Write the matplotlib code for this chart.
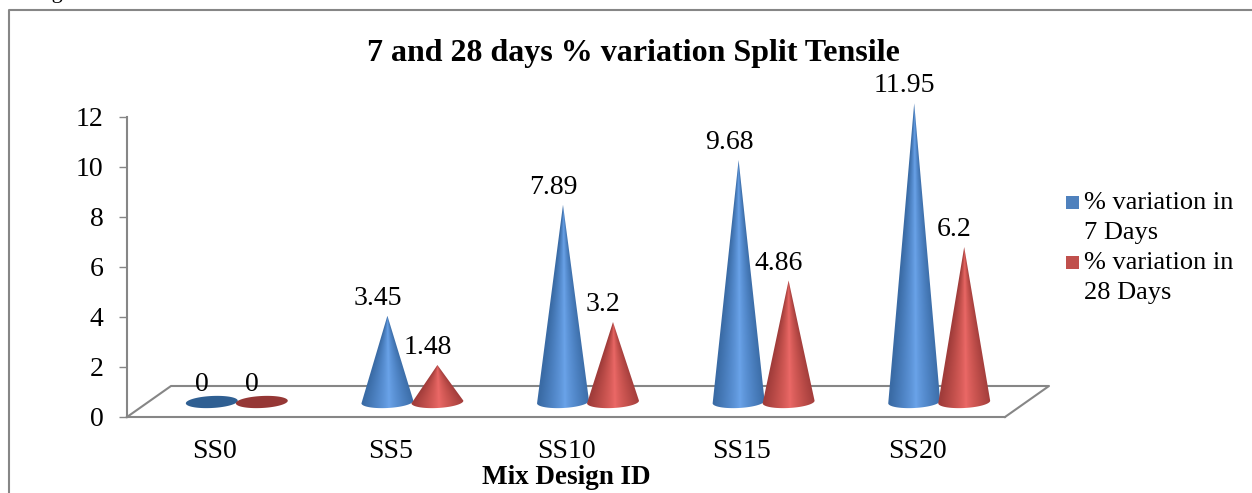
import numpy as np
import matplotlib
matplotlib.use("Agg")
import matplotlib.pyplot as plt
from matplotlib.colors import LinearSegmentedColormap
from matplotlib.patches import Polygon, Rectangle

plt.rcParams['font.family'] = ['Liberation Serif', 'DejaVu Serif']

categories = ["SS0", "SS5", "SS10", "SS15", "SS20"]
days_7 = [0, 3.45, 7.89, 9.68, 11.95]
days_28 = [0, 1.48, 3.2, 4.86, 6.2]
y_ticks = [0, 2, 4, 6, 8, 10, 12]
legend_labels = ["% variation in\n7 Days", "% variation in\n28 Days"]

W, H = 1252, 493
GRAY = "#868686"

fig = plt.figure(figsize=(W / 100, H / 100), dpi=100)
# axes box in pixels: x 127-1005, y 417 up to 67 (extra room above 12 for the tall cone)
ax = fig.add_axes([127 / W, (H - 417) / H, 878 / W, 350 / H])
ax.set_xlim(-0.5, 4.5)
ax.set_ylim(0, 14)
px_x = 878 / 5
px_y = 25.0

blue_cmap = LinearSegmentedColormap.from_list("b", ["#6ba4ea", "#5288ca", "#3a6ba5"])
red_cmap = LinearSegmentedColormap.from_list("r", ["#ec6967", "#c8534f", "#a03c3a"])


def base_arc(cx, base_y, half_w, half_h, tilt, t):
    # tilted ellipse in pixel offsets, then back to data units
    dx = half_w * np.cos(t) * np.cos(tilt) - half_h * np.sin(t) * np.sin(tilt)
    dy = half_w * np.cos(t) * np.sin(tilt) + half_h * np.sin(t) * np.cos(tilt)
    return cx + dx / px_x, base_y + dy / px_y


def draw_cone(cx, value, cmap, flat_color):
    base_y = 0.6
    half_w, half_h = 26, 6
    tilt = np.radians(3)
    if value == 0:
        xs, ys = base_arc(cx, base_y, half_w, half_h, tilt, np.linspace(0, 2 * np.pi, 80))
        ax.add_patch(Polygon(np.column_stack([xs, ys]), fc=flat_color, ec="none", zorder=3))
        return
    tip = base_y + value
    xs, ys = base_arc(cx, base_y, half_w, half_h, tilt, np.linspace(np.pi, 2 * np.pi, 40))
    outline = np.vstack([[[cx, tip]], np.column_stack([xs, ys])])
    clip = Polygon(outline, closed=True, transform=ax.transData, fc="none", ec="none")
    ax.add_patch(clip)

    # shade each row from the cone axis out to its edge
    hw = half_w / px_x
    gx = np.linspace(cx - hw * 1.05, cx + hw * 1.05, 120)
    gy = np.linspace(base_y - 0.35, tip, 300)
    xx, yy = np.meshgrid(gx, gy)
    row_w = np.maximum(hw * (tip - yy) / value, 0.002)
    row_w = np.minimum(row_w, hw)
    shade = np.clip(np.abs(xx - cx - 0.06 * row_w) / row_w, 0, 1) ** 0.8
    im = ax.imshow(shade, cmap=cmap, vmin=0, vmax=1, aspect="auto", origin="lower",
                   extent=[gx[0], gx[-1], gy[0], gy[-1]], zorder=3, interpolation="bilinear")
    im.set_clip_path(clip)


# floor of the 3D chart
depth_x, depth_y = 44 / px_x, 31 / px_y
ax.plot([-0.5, -0.5 + depth_x, 4.5 + depth_x, 4.5], [0, depth_y, depth_y, 0],
        color=GRAY, lw=1.5, clip_on=False, zorder=1)

x = np.arange(len(categories))
for i in x:
    draw_cone(i - 3 / px_x, days_7[i], blue_cmap, "#2f5f92")
    draw_cone(i + 47 / px_x, days_28[i], red_cmap, "#953735")
    ax.annotate(str(days_7[i]), (i - 3 / px_x, days_7[i] + 0.6), xytext=(-7, 12.5),
                textcoords="offset points", ha="center", va="center", fontsize=20, zorder=4)
    ax.annotate(str(days_28[i]), (i + 47 / px_x, days_28[i] + 0.6), xytext=(-7, 12.5),
                textcoords="offset points", ha="center", va="center", fontsize=20, zorder=4)
ax.set_xlim(-0.5, 4.5)
ax.set_ylim(0, 14)

for s in ["top", "right"]:
    ax.spines[s].set_visible(False)
ax.spines["left"].set_bounds(0, 12)
for s in ["left", "bottom"]:
    ax.spines[s].set_color(GRAY)
    ax.spines[s].set_linewidth(1.5)
ax.set_yticks(y_ticks)
ax.set_xticks(x, categories)
ax.tick_params(axis="y", length=6, width=1, color=GRAY, pad=11, labelsize=20)
ax.tick_params(axis="x", length=0, pad=16, labelsize=20)
ax.patch.set_alpha(0)

fig.text(633 / W, 1 - 54 / H, "7 and 28 days % variation Split Tensile", fontsize=23,
         fontweight="bold", ha="center", va="center")
fig.text(566 / W, 1 - 477 / H, "Mix Design ID", fontsize=19.5, fontweight="bold",
         ha="center", va="center")

# legend: swatch sits on the first line of each two-line label
for label, color, top in zip(legend_labels, ["#4f81bd", "#c0504d"], [196, 256]):
    fig.add_artist(Rectangle((1066 / W, 1 - (top + 13) / H), 13 / W, 13 / H,
                             transform=fig.transFigure, fc=color, ec="none"))
    fig.text(1084 / W, 1 - (top - 4) / H, label, fontsize=19, ha="left", va="top",
             linespacing=1.48)

# outer chart frame, open on the right and bottom
fig.add_artist(plt.Line2D([9 / W, 9 / W, 1], [0, 1 - 10 / H, 1 - 10 / H],
                          transform=fig.transFigure, color=GRAY, lw=1.5))
# bottom of the caption line above the chart, cropped in the source
fig.text(33 / W, 1 + 2 / H, "Fig", fontsize=16, ha="left", va="baseline")

fig.savefig("out.png", dpi=100)
